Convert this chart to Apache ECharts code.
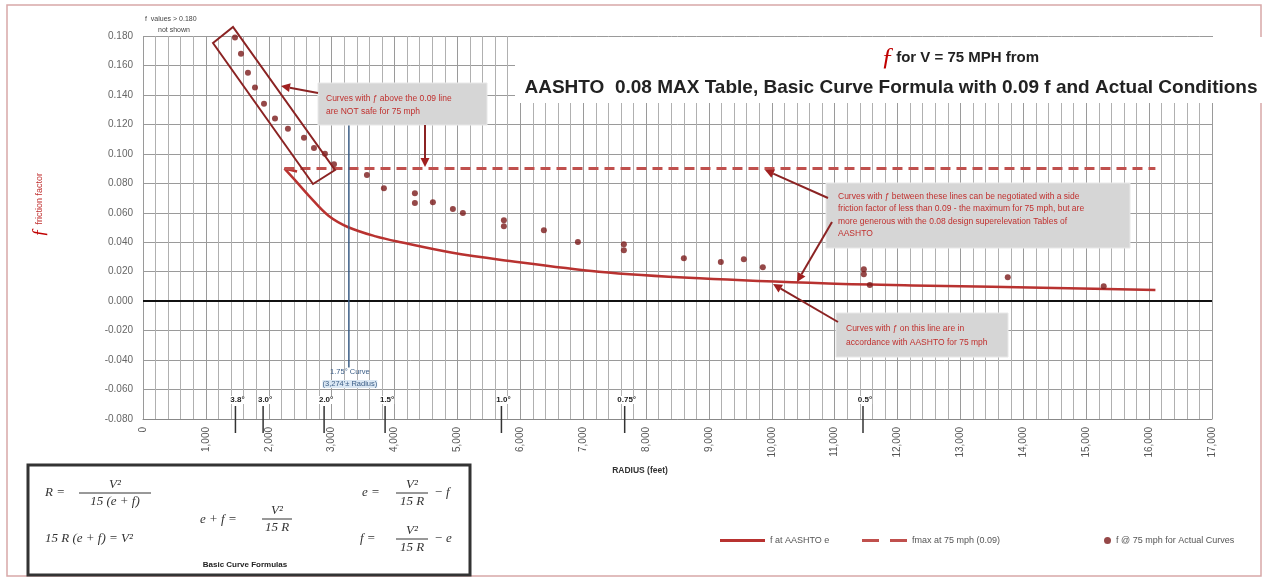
<!DOCTYPE html>
<html><head><meta charset="utf-8">
<script src="https://cdn.jsdelivr.net/npm/echarts@6/dist/echarts.min.js"></script>
<style>html,body{margin:0;padding:0;background:#fff}#c{width:1265px;height:579px}</style>
</head><body><div id="c"></div>
<script>
// ---- data ----
const aashtoR = [2450, 2250, 2400, 2650, 2950, 3274, 3700, 4100, 4900, 5700, 7250, 8850, 10900, 12500, 14500, 16100];
const aashtoF = [0.088, 0.090, 0.083, 0.071, 0.058, 0.050, 0.044, 0.040, 0.033, 0.028, 0.020, 0.0155, 0.012, 0.0105, 0.009, 0.0075];
const fmaxR = [2250, 16100];
const fmaxF = [0.09, 0.09];
const actualR = [1463, 1558, 1669, 1781, 1924, 2099, 2305, 2560, 2719, 2893, 3037, 3561, 3831, 4324, 4324, 4610, 4928, 5087, 5739, 5739, 6375, 6916, 7647, 7647, 8601, 9189, 9555, 9857, 11463, 11463, 11558, 13752, 15278];
const actualF = [0.179, 0.168, 0.155, 0.145, 0.134, 0.124, 0.117, 0.111, 0.104, 0.100, 0.093, 0.0856, 0.0767, 0.0733, 0.0666, 0.0672, 0.0625, 0.0598, 0.0550, 0.0509, 0.0482, 0.0401, 0.0387, 0.0346, 0.0292, 0.0265, 0.0285, 0.0231, 0.0217, 0.0183, 0.0109, 0.0163, 0.0102];
const degLabels = ['3.8°', '3.0°', '2.0°', '1.5°', '1.0°', '0.75°', '0.5°'];
const degR = [1470, 1910, 2880, 3850, 5700, 7660, 11450];
const curve175R = 3274;
const seriesNames = ['f at AASHTO e', 'fmax at 75 mph (0.09)', 'f @ 75 mph for Actual Curves'];

const zip = (a, b) => a.map((v, i) => [v, b[i]]);
const RED = '#b83230', DARK = '#7a1a1a', SANS = 'Liberation Sans', SERIF = 'Liberation Serif';
const LEG_TXT = {fontSize: 9, color: '#555', fontFamily: SANS};

const chart = echarts.init(document.getElementById('c'), null, {renderer: 'canvas'});
const option = {
  backgroundColor: '#fff',
  animation: false,
  grid: {left: 143, right: 53, top: 36, bottom: 160, containLabel: false},
  xAxis: {
    type: 'value', min: 0, max: 17000, interval: 1000,
    axisLine: {onZero: false, lineStyle: {color: '#888'}},
    axisTick: {show: false},
    axisLabel: {rotate: 90, fontSize: 10, color: '#555', fontFamily: SANS, margin: 8,
      formatter: v => v.toLocaleString('en-US')},
    splitLine: {lineStyle: {color: '#9a9a9a', width: 1}},
    minorTick: {show: false, splitNumber: 5},
    minorSplitLine: {show: true, lineStyle: {color: '#b0b0b0', width: 1}}
  },
  yAxis: {
    type: 'value', min: -0.08, max: 0.18, interval: 0.02,
    axisLine: {show: false}, axisTick: {show: false},
    axisLabel: {fontSize: 10, color: '#666', fontFamily: SANS, margin: 10, formatter: v => v.toFixed(3)},
    splitLine: {lineStyle: {color: '#9a9a9a', width: 1}}
  },
  legend: [
    {data: [{name: seriesNames[0], icon: 'path://M0,0h45v3h-45z'}], left: 715, top: 531, itemWidth: 45, itemHeight: 3, itemGap: 4, textStyle: LEG_TXT},
    {data: [{name: seriesNames[1], icon: 'path://M0,0h17v3h-17z M28,0h17v3h-17z'}], left: 857, top: 531, itemWidth: 45, itemHeight: 3, itemGap: 4, textStyle: LEG_TXT},
    {data: [{name: seriesNames[2], icon: 'circle'}], left: 1099, top: 531, itemWidth: 7, itemHeight: 7, itemGap: 5, textStyle: LEG_TXT}
  ],
  series: [
    {name: seriesNames[0], type: 'line', data: zip(aashtoR, aashtoF), symbol: 'none', smooth: 0.35,
      lineStyle: {color: RED, width: 2.5}, itemStyle: {color: RED}, z: 4},
    {name: seriesNames[1], type: 'line', data: zip(fmaxR, fmaxF), symbol: 'none',
      lineStyle: {color: '#c0504d', width: 3, type: [10, 6]}, itemStyle: {color: '#c0504d'}, z: 4},
    {name: seriesNames[2], type: 'scatter', data: zip(actualR, actualF), symbol: 'circle', symbolSize: 6,
      itemStyle: {color: DARK}, z: 5,
      markLine: {silent: true, symbol: 'none', label: {show: false},
        lineStyle: {color: '#111', width: 2, type: 'solid'}, data: [{yAxis: 0}]}}
  ]
};
chart.setOption(option);

// ---- annotations ----
const px = (r, f) => chart.convertToPixel({gridIndex: 0}, [r, f]);
const g = [];
function txt(x, y, text, o) {
  g.push({type: 'text', x, y, z: 20, style: Object.assign({text, fontSize: 8, fontFamily: SANS, fill: '#333', align: 'left', verticalAlign: 'middle'}, o || {})});
}
function line(x1, y1, x2, y2, stroke, w, z) {
  g.push({type: 'line', z: z || 15, shape: {x1, y1, x2, y2}, style: {stroke, lineWidth: w}});
}
function arrow(x1, y1, x2, y2) {
  const a = Math.atan2(y2 - y1, x2 - x1), L = 9, W = 4.5;
  const bx = x2 - L * Math.cos(a), by = y2 - L * Math.sin(a);
  line(x1, y1, bx, by, '#8b2323', 2, 18);
  g.push({type: 'polygon', z: 18, shape: {points: [[x2, y2], [bx + W * Math.sin(a), by - W * Math.cos(a)], [bx - W * Math.sin(a), by + W * Math.cos(a)]]}, style: {fill: '#a02020'}});
}
function box(x, y, w, h) {
  g.push({type: 'rect', z: 16, shape: {x, y, width: w, height: h}, style: {fill: '#d6d6d6', stroke: '#e8e8e8'}});
}
// outer frame
g.push({type: 'rect', z: 1, shape: {x: 7, y: 5, width: 1254, height: 571}, style: {fill: 'none', stroke: '#d8a8a8', lineWidth: 1.5}});

// title (on white panel)
g.push({type: 'rect', z: 12, shape: {x: 515, y: 37, width: 747, height: 66}, style: {fill: '#fff'}});
txt(960, 58, '{f|ƒ} {t|for V = 75 MPH from}', {align: 'center', rich: {
  f: {fontFamily: SERIF, fontStyle: 'italic', fontSize: 26, fill: '#c00000', color: '#c00000'},
  t: {fontFamily: SANS, fontWeight: 'bold', fontSize: 15, fill: '#222', color: '#222'}}});
txt(891, 88, 'AASHTO  0.08 MAX Table, Basic Curve Formula with 0.09 f and Actual Conditions', {align: 'center', fontWeight: 'bold', fontSize: 19, fill: '#222'});

// y axis title
g.push({type: 'text', x: 40, y: 205, rotation: Math.PI / 2, z: 20, style: {text: '{f|ƒ} {t|friction factor}', align: 'center', verticalAlign: 'middle', rich: {
  f: {fontFamily: SERIF, fontStyle: 'italic', fontSize: 18, fill: '#c00000', color: '#c00000'},
  t: {fontFamily: SANS, fontSize: 9, fill: '#c03030', color: '#c03030'}}}});
txt(145, 19, 'f  values > 0.180', {fontSize: 7, fill: '#444'});
txt(158, 30, 'not shown', {fontSize: 7, fill: '#444'});

// x axis title
txt(640, 471, 'RADIUS (feet)', {align: 'center', fontWeight: 'bold', fontSize: 8.5, fill: '#333'});

// 1.75 deg line
const p1 = px(curve175R, 0.14), p2 = px(curve175R, -0.045);
line(p1[0], p1[1], p2[0], p2[1], '#3b5d86', 1.5, 6);
txt(p1[0] + 1, 372, '1.75° Curve', {align: 'center', fontSize: 7.5, fill: '#3b5d86'});
txt(p1[0] + 1, 384, "(3,274'± Radius)", {align: 'center', fontSize: 7.5, fill: '#3b5d86', backgroundColor: '#dbe8f4'});

// degree markers
degR.forEach((r, i) => {
  const p = px(r, -0.08);
  txt(p[0] + 2, 400, degLabels[i], {align: 'center', fontWeight: 'bold', fontSize: 8, fill: '#222', backgroundColor: '#fff'});
  line(p[0], 406, p[0], 433, '#333', 1.5, 17);
});

// box around high-f dots
g.push({type: 'polygon', z: 14, shape: {points: [[213, 43], [233, 27], [335, 170], [313, 184]]}, style: {fill: 'none', stroke: '#8b2323', lineWidth: 2}});

const NOTE = {fontSize: 8.5, fill: '#c0302e', verticalAlign: 'top'};
// annotation A
box(318, 83, 169, 42);
txt(326, 92, 'Curves with ƒ above the 0.09 line\nare NOT safe for 75 mph', Object.assign({lineHeight: 13}, NOTE));
arrow(318, 93, 281, 86);
arrow(425, 125, 425, 167);

// annotation B
box(826, 183, 304, 65);
txt(838, 190, 'Curves with ƒ between these lines can be negotiated with a side\nfriction factor of less than 0.09 - the maximum for 75 mph, but are\nmore generous with the 0.08 design superelevation Tables of\nAASHTO', Object.assign({lineHeight: 12.5}, NOTE));
arrow(828, 198, 765, 170);
arrow(832, 222, 797, 282);

// annotation C
box(836, 313, 172, 44);
txt(846, 322, 'Curves with ƒ on this line are in\naccordance with AASHTO for 75 mph', Object.assign({lineHeight: 14}, NOTE));
arrow(838, 322, 773, 284);

// formula box
g.push({type: 'rect', z: 10, shape: {x: 28, y: 465, width: 442, height: 110}, style: {fill: '#fff', stroke: '#333', lineWidth: 3}});
const FS = {fontFamily: SERIF, fontStyle: 'italic', fontSize: 13, fill: '#333'};
function frac(cx, yl, num, den, w) {
  txt(cx, yl - 8, num, Object.assign({}, FS, {align: 'center'}));
  line(cx - w / 2, yl, cx + w / 2, yl, '#333', 1, 21);
  txt(cx, yl + 9, den, Object.assign({}, FS, {align: 'center'}));
}
txt(45, 493, 'R =', FS);
frac(115, 493, 'V²', '15 (e + f)', 72);
txt(45, 539, '15 R (e + f) = V²', FS);
txt(200, 520, 'e + f =', FS);
frac(277, 519, 'V²', '15 R', 30);
txt(362, 493, 'e =', FS);
frac(412, 493, 'V²', '15 R', 32);
txt(434, 493, '− f', FS);
txt(360, 539, 'f =', FS);
frac(412, 539, 'V²', '15 R', 32);
txt(434, 539, '− e', FS);
txt(245, 565, 'Basic Curve Formulas', {align: 'center', fontWeight: 'bold', fontSize: 8, fill: '#222'});

chart.setOption({graphic: {elements: g}});
</script></body></html>
